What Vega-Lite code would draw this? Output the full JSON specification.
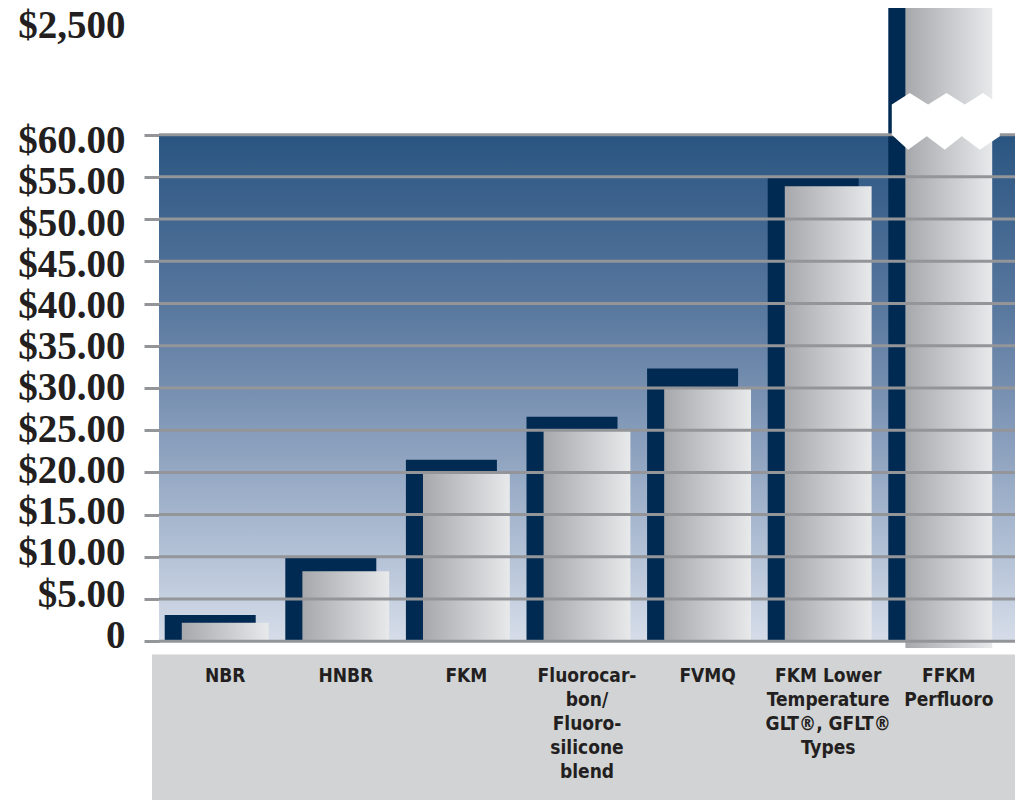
{
  "$schema": "https://vega.github.io/schema/vega-lite/v6.json",
  "width": 856,
  "height": 792,
  "autosize": {"type": "none"},
  "padding": {"left": 159, "top": 8, "right": 0, "bottom": 0},
  "background": "white",
  "config": {"view": {"stroke": null}},
  "datasets": {
    "bars": [
      {"material": "NBR", "label": "NBR", "price": 2.2, "shadow": 3.1, "base": 0},
      {"material": "HNBR", "label": "HNBR", "price": 8.3, "shadow": 10.0, "base": 0},
      {"material": "FKM", "label": "FKM", "price": 19.9, "shadow": 21.5, "base": 0},
      {"material": "Fluorocarbon/Fluorosilicone blend", "label": "Fluorocar-\nbon/\nFluoro-\nsilicone\nblend", "price": 25.0, "shadow": 26.6, "base": 0},
      {"material": "FVMQ", "label": "FVMQ", "price": 29.9, "shadow": 32.3, "base": 0},
      {"material": "FKM Lower Temperature GLT, GFLT Types", "label": "FKM Lower\nTemperature\nGLT®, GFLT®\nTypes", "price": 53.9, "shadow": 55.0, "base": 0},
      {"material": "FFKM Perfluoro", "label": "FFKM\nPerfluoro", "price": 75, "shadow": 75, "base": -0.8}
    ],
    "grid": [
      {"v": 0}, {"v": 5}, {"v": 10}, {"v": 15}, {"v": 20}, {"v": 25}, {"v": 30},
      {"v": 35}, {"v": 40}, {"v": 45}, {"v": 50}, {"v": 55}, {"v": 60}
    ]
  },
  "data": {"name": "bars"},
  "layer": [
    {
      "data": {"values": [{}]},
      "mark": {"type": "rect", "color": "#d1d3d4", "stroke": "#d1d3d4", "strokeWidth": 14},
      "encoding": {
        "y": {"datum": -2.4, "type": "quantitative", "title": null},
        "y2": {"datum": -18.8}
      }
    },
    {
      "data": {"values": [{}]},
      "mark": {"type": "rect", "color": {"gradient": "linear", "x1": 0, "y1": 0, "x2": 0, "y2": 1, "stops": [
        {"offset": 0, "color": "#2a5581"},
        {"offset": 0.35, "color": "#5a799f"},
        {"offset": 0.55, "color": "#7f96b6"},
        {"offset": 0.8, "color": "#aebdd3"},
        {"offset": 1, "color": "#d6dde9"}
      ]}},
      "encoding": {
        "y": {"datum": 60, "type": "quantitative", "title": null},
        "y2": {"datum": 0}
      }
    },
    {
      "mark": {"type": "text", "font": "Liberation Sans Narrow, DejaVu Sans Condensed, DejaVu Sans, sans-serif", "fontWeight": "bold", "fontSize": 19, "lineBreak": "\n", "lineHeight": 24, "baseline": "top", "align": "center", "color": "#231f20"},
      "encoding": {
        "x": {"field": "material", "type": "nominal", "sort": null, "axis": null,
              "scale": {"paddingInner": 0.28, "paddingOuter": 0.189}},
        "y": {"datum": -3.0, "type": "quantitative", "title": null},
        "text": {"field": "label"}
      }
    },
    {
      "mark": {"type": "bar", "color": "#012a53", "width": 91, "xOffset": -15},
      "encoding": {
        "x": {"field": "material", "type": "nominal", "sort": null, "axis": null},
        "y": {
          "field": "shadow", "type": "quantitative", "title": null,
          "scale": {"domain": [-18.8, 75], "nice": false, "zero": false},
          "axis": {
            "values": [0, 5, 10, 15, 20, 25, 30, 35, 40, 45, 50, 55, 60, 72.9],
            "labelExpr": "datum.value > 61 ? '$2,500' : (datum.value == 0 ? '0' : '$' + format(datum.value, '.2f'))",
            "labelFont": "Liberation Serif",
            "labelFontWeight": "bold",
            "labelFontSize": 39,
            "labelColor": "#231f20",
            "labelPadding": 19,
            "labelOverlap": false,
            "labelFlush": false,
            "labelBound": false,
            "labelOffset": {"expr": "datum.value > 61 ? 0 : datum.value / 5 - 6"},
            "tickSize": 15,
            "tickWidth": 3,
            "tickColor": "#939598",
            "tickOpacity": {"condition": {"test": "datum.value > 61", "value": 0}, "value": 1},
            "domain": false,
            "grid": false,
            "title": null
          }
        },
        "y2": {"datum": 0}
      }
    },
    {
      "mark": {"type": "bar", "color": {"gradient": "linear", "x1": 0, "y1": 0, "x2": 1, "y2": 0, "stops": [
        {"offset": 0, "color": "#a6a8ab"},
        {"offset": 1, "color": "#e8e9eb"}
      ]}},
      "encoding": {
        "x": {"field": "material", "type": "nominal", "sort": null, "axis": null},
        "y": {"field": "price", "type": "quantitative", "title": null},
        "y2": {"field": "base"}
      }
    },
    {
      "data": {"name": "grid"},
      "mark": {"type": "rule", "color": "#939598", "strokeWidth": 3},
      "encoding": {
        "y": {"field": "v", "type": "quantitative", "title": null}
      }
    },
    {
      "transform": [{"filter": "datum.material == 'FFKM Perfluoro'"}],
      "mark": {
        "type": "point",
        "shape": "M-1,-0.306L-0.667,-0.522L-0.328,-0.306L0.013,-0.522L0.352,-0.306L0.691,-0.522L1,-0.306L1,0.281L0.63,0.528L0.296,0.281L-0.019,0.528L-0.352,0.281L-0.698,0.528L-1,0.25Z",
        "size": 11664,
        "filled": true,
        "color": "white",
        "opacity": 1,
        "strokeWidth": 0,
        "xOffset": -3
      },
      "encoding": {
        "x": {"field": "material", "type": "nominal", "sort": null, "axis": null},
        "y": {"datum": 61.6, "type": "quantitative", "title": null}
      }
    }
  ]
}
